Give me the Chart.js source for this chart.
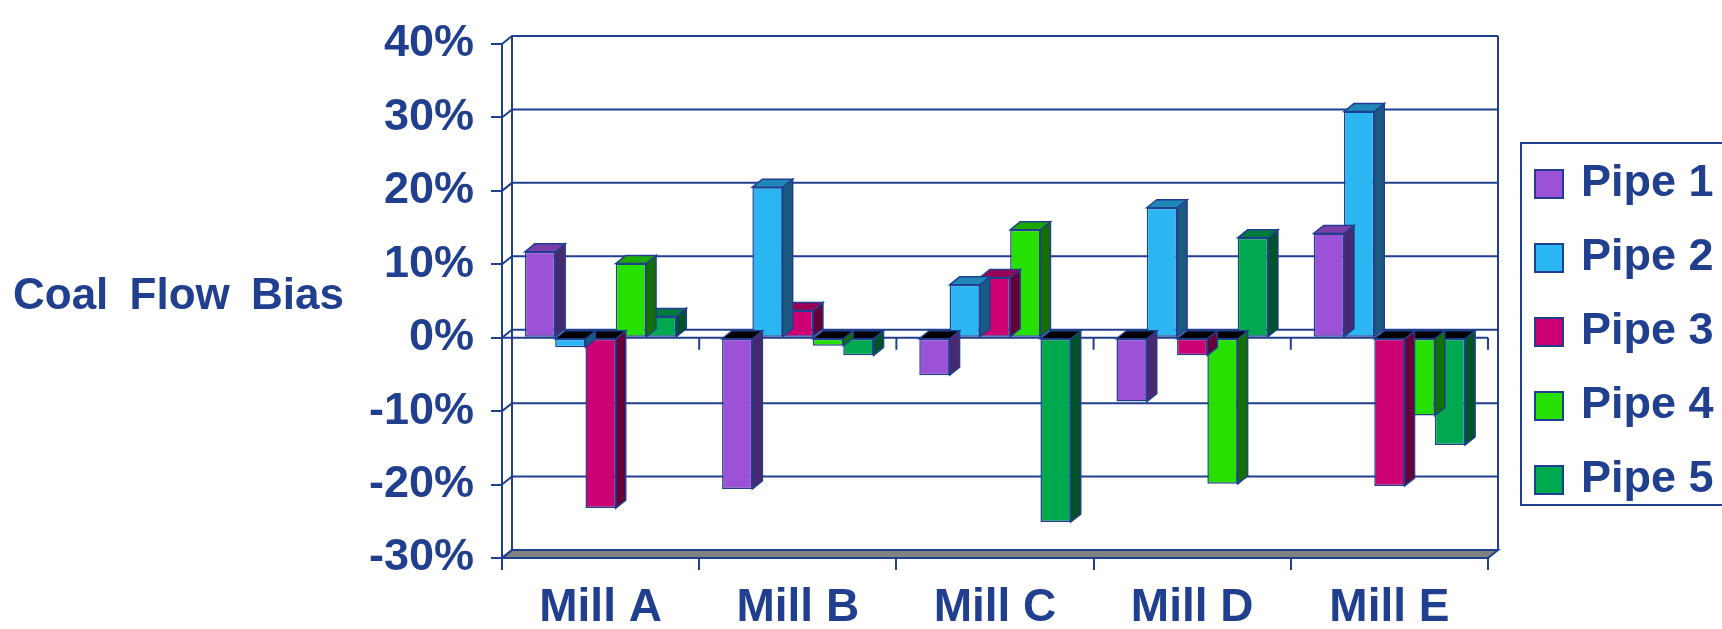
<!DOCTYPE html>
<html>
<head>
<meta charset="utf-8">
<script src="https://cdn.jsdelivr.net/npm/chart.js@4/dist/chart.umd.min.js"></script>
<style>
  body { margin: 0; background: #fff; }
  canvas { display: block; }
</style>
</head>
<body>
<canvas id="biasChart" width="1722" height="629"></canvas>
<script>
const mills = ['Mill A', 'Mill B', 'Mill C', 'Mill D', 'Mill E']
const pipeNames = ['Pipe 1', 'Pipe 2', 'Pipe 3', 'Pipe 4', 'Pipe 5']
const pipe1 = [11.7, -20.6, -5.1, -8.7, 14.2]
const pipe2 = [-1.3, 20.5, 7.2, 17.7, 30.8]
const pipe3 = [-23.2, 3.7, 8.2, -2.4, -20.2]
const pipe4 = [10.1, -1.1, 14.7, -19.9, -10.6]
const pipe5 = [2.9, -2.4, -25.1, 13.6, -14.6]
const yTicks = [-30, -20, -10, 0, 10, 20, 30, 40]

const BLUE = '#203f8f'
const FONT = "'Liberation Sans', Arial, sans-serif"
// front, side, top colours per pipe
const faceColors = [
    ['#9b52d6', '#4a2870', '#7a3eaa'],
    ['#2bb6f2', '#1a5a80', '#2088b8'],
    ['#cc0072', '#660039', '#990056'],
    ['#26e000', '#137000', '#1ca800'],
    ['#00a84f', '#005228', '#007a3c']
]
const DX = 10, DY = -8   // depth of the 3d look

function poly(ctx, pts, fill) {
    ctx.beginPath()
    ctx.moveTo(pts[0][0], pts[0][1])
    for (let i = 1; i < pts.length; i++) ctx.lineTo(pts[i][0], pts[i][1])
    ctx.closePath()
    if (fill) { ctx.fillStyle = fill; ctx.fill() }
    ctx.stroke()
}

const threeD = {
    id: 'threeD',
    beforeDraw(chart) {
        const {ctx, chartArea: a, scales: {x, y}} = chart
        ctx.save()
        ctx.strokeStyle = BLUE
        ctx.lineWidth = 2
        // floor
        poly(ctx, [[a.left, a.bottom], [a.left + DX, a.bottom + DY], [a.right + DX, a.bottom + DY], [a.right, a.bottom]], '#808080')
        // back wall gridlines + little connectors from the axis
        for (const v of yTicks) {
            const py = y.getPixelForValue(v)
            ctx.beginPath()
            ctx.moveTo(a.left, py)
            ctx.lineTo(a.left + DX, py + DY)
            ctx.lineTo(a.right + DX, py + DY)
            ctx.stroke()
        }
        ctx.beginPath()
        ctx.moveTo(a.left + DX, a.top + DY)
        ctx.lineTo(a.left + DX, a.bottom + DY)
        ctx.moveTo(a.right + DX, a.top + DY)
        ctx.lineTo(a.right + DX, a.bottom + DY)
        ctx.stroke()
        // category axis crossing at 0
        const y0 = y.getPixelForValue(0)
        const step = (x.right - x.left) / mills.length
        ctx.beginPath()
        ctx.moveTo(a.left, y0)
        ctx.lineTo(a.right, y0)
        for (let i = 1; i <= mills.length; i++) {
            ctx.moveTo(x.left + i * step, y0)
            ctx.lineTo(x.left + i * step, y0 + 12)
        }
        ctx.stroke()
        ctx.restore()
    },
    beforeDatasetDraw(chart, args) {
        const {ctx} = chart
        const cols = faceColors[args.index]
        ctx.save()
        ctx.strokeStyle = BLUE
        ctx.lineWidth = 1.5
        for (const el of args.meta.data) {
            const {x, y, base, width} = el.getProps(['x', 'y', 'base', 'width'], true)
            const x1 = x - width / 2, x2 = x + width / 2
            const top = Math.min(y, base), bot = Math.max(y, base)
            poly(ctx, [[x2, top], [x2 + DX, top + DY], [x2 + DX, bot + DY], [x2, bot]], cols[1])
            poly(ctx, [[x1, top], [x1 + DX, top + DY], [x2 + DX, top + DY], [x2, top]], y > base ? '#000' : cols[2])
        }
        ctx.restore()
    },
    afterDraw(chart) {
        const {ctx, chartArea: a} = chart
        ctx.save()
        ctx.fillStyle = BLUE
        ctx.font = 'bold 44px ' + FONT
        ctx.textBaseline = 'middle'
        ctx.textAlign = 'left'
        if ('wordSpacing' in ctx) ctx.wordSpacing = '9px'
        ctx.fillText('Coal Flow Bias', 13, 297)
        if ('wordSpacing' in ctx) ctx.wordSpacing = '0px'

        // legend
        const lx = a.right + 33
        ctx.strokeStyle = BLUE
        ctx.lineWidth = 2
        ctx.strokeRect(lx, 143, 300, 362)
        ctx.font = 'bold 45px ' + FONT
        chart.data.datasets.forEach((ds, i) => {
            const ry = 184 + i * 74
            ctx.fillStyle = ds.backgroundColor
            ctx.fillRect(lx + 14, ry - 14, 28, 28)
            ctx.strokeRect(lx + 14, ry - 14, 28, 28)
            ctx.fillStyle = BLUE
            ctx.fillText(ds.label, lx + 60, ry)
        })
        ctx.restore()
    }
}

const series = [pipe1, pipe2, pipe3, pipe4, pipe5]

new Chart('biasChart', {
    type: 'bar',
    data: {
        labels: mills,
        datasets: series.map((data, i) => ({
            label: pipeNames[i],
            data: data,
            backgroundColor: faceColors[i][0],
            borderColor: BLUE,
            borderWidth: 1.5,
            borderSkipped: false,
            categoryPercentage: 0.768,
            barPercentage: 1.0
        }))
    },
    options: {
        responsive: false,
        animation: false,
        layout: {padding: {top: 34, right: 234, bottom: 0, left: 0}},
        plugins: {
            legend: {display: false},
            tooltip: {enabled: false}
        },
        scales: {
            x: {
                grid: {drawOnChartArea: false, drawTicks: true, tickLength: 12, color: BLUE, lineWidth: 2, offset: true},
                border: {display: true, color: BLUE, width: 2},
                ticks: {color: BLUE, font: {family: FONT, size: 46, weight: 'bold'}, padding: 11, maxRotation: 0},
                afterFit: s => { s.height = 71 }
            },
            y: {
                min: -30,
                max: 40,
                grid: {drawOnChartArea: false, drawTicks: true, tickLength: 11, color: BLUE, lineWidth: 2},
                border: {display: true, color: BLUE, width: 2},
                ticks: {
                    stepSize: 10,
                    color: BLUE,
                    font: {family: FONT, size: 45, weight: 'bold'},
                    padding: 17,
                    callback: v => v + '%'
                },
                afterFit: s => { s.width = 502 }
            }
        }
    },
    plugins: [threeD]
})
</script>
</body>
</html>
